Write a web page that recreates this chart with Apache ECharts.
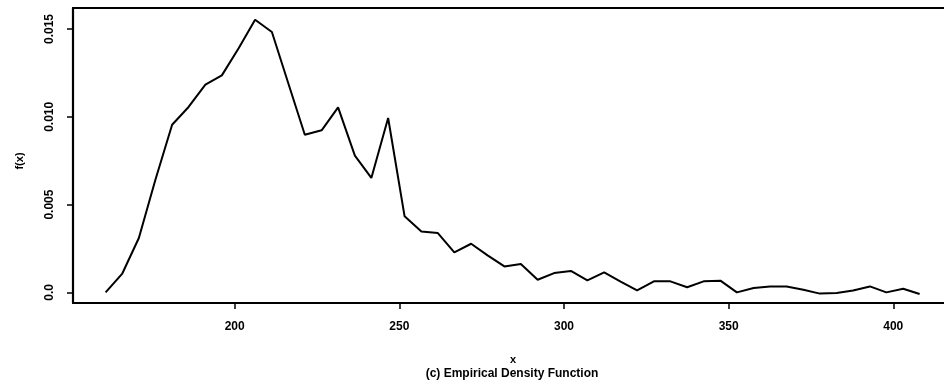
<!DOCTYPE html>
<html>
<head>
<meta charset="utf-8">
<script src="https://cdn.jsdelivr.net/npm/echarts@6/dist/echarts.min.js"></script>
<style>
  html, body { margin: 0; padding: 0; background: #fff; }
  #chart { width: 944px; height: 387px; }
</style>
</head>
<body>
<div id="chart"></div>
<script>
// Evaluation points of the empirical density
const xValues = [
  160.8, 165.8, 170.9, 175.9, 181.0, 186.0, 191.1, 196.1, 201.2, 206.2,
  211.3, 216.3, 221.3, 226.4, 231.4, 236.5, 241.5, 246.6, 251.6, 256.7,
  261.7, 266.7, 271.8, 276.8, 281.9, 286.9, 292.0, 297.0, 302.1, 307.1,
  312.2, 317.2, 322.2, 327.3, 332.3, 337.4, 342.4, 347.5, 352.5, 357.6,
  362.6, 367.6, 372.7, 377.7, 382.8, 387.8, 392.9, 397.9, 403.0, 408.0
];
// Estimated density f(x) at each point
const densityValues = [
  0.0, 0.00105, 0.0031, 0.0064, 0.00955, 0.01056, 0.01183, 0.01236, 0.0139, 0.01553,
  0.01483, 0.0119, 0.00898, 0.00923, 0.01054, 0.00779, 0.00652, 0.00993, 0.00433, 0.00347,
  0.00338, 0.00228, 0.00277, 0.00211, 0.00148, 0.00162, 0.00072, 0.0011, 0.00122, 0.00068,
  0.00114, 0.00062, 0.00011, 0.00063, 0.00063, 0.00029, 0.00063, 0.00067, 0.0, 0.00025,
  0.00034, 0.00034, 0.00015, -0.00007, -0.00004, 0.00011, 0.00034, 0.0, 0.00021, -0.00009
];
const xTicks = [200, 250, 300, 350, 400];
const yTicks = [0, 0.005, 0.010, 0.015];
const yTickLabels = ['0.0', '0.005', '0.010', '0.015'];

const FONT = '"Liberation Sans", Arial, Helvetica, sans-serif';
const X_MIN = 150.9, X_MAX = 415.4;

const chart = echarts.init(document.getElementById('chart'), null, { renderer: 'canvas' });

const points = xValues.map((x, i) => [x, densityValues[i]]);
const frameLine = { show: true, lineStyle: { color: '#000', width: 2.2 } };

chart.setOption({
  animation: false,
  backgroundColor: '#ffffff',
  grid: { left: 73, top: 8, right: 0, bottom: 84, show: false },
  xAxis: [
    {
      type: 'value',
      position: 'bottom',
      min: X_MIN,
      max: X_MAX,
      axisLine: { ...frameLine, onZero: false },
      splitLine: { show: false },
      axisTick: {
        show: true, inside: false, length: 6,
        lineStyle: { color: '#000', width: 1.5 },
        customValues: xTicks
      },
      axisLabel: {
        customValues: xTicks,
        margin: 18,
        color: '#000',
        fontFamily: FONT,
        fontWeight: 'bold',
        fontSize: 12
      }
    },
    {
      // top edge of the plot frame
      type: 'value',
      position: 'top',
      min: X_MIN,
      max: X_MAX,
      axisLine: { ...frameLine, onZero: false },
      axisTick: { show: false },
      axisLabel: { show: false },
      splitLine: { show: false }
    }
  ],
  yAxis: {
    type: 'value',
    min: -0.000604,
    max: 0.016196,
    axisLine: { ...frameLine, onZero: false },
    splitLine: { show: false },
    axisTick: {
      show: true, inside: false, length: 6,
      lineStyle: { color: '#000', width: 1.5 },
      customValues: yTicks
    },
    axisLabel: {
      customValues: yTicks,
      rotate: 90,
      margin: 17,
      color: '#000',
      fontFamily: FONT,
      fontWeight: 'bold',
      fontSize: 12,
      formatter: (v) => {
        const idx = yTicks.findIndex(t => Math.abs(t - v) < 1e-9);
        return idx >= 0 ? yTickLabels[idx] : '';
      }
    }
  },
  graphic: [
    {
      type: 'text', x: 20, y: 161, rotation: Math.PI / 2,
      style: {
        text: 'f(x)', fill: '#000', font: 'bold 11px ' + FONT,
        align: 'center', verticalAlign: 'middle'
      }
    },
    {
      type: 'text', x: 513, y: 360,
      style: {
        text: 'x', fill: '#000', font: 'bold 11px ' + FONT,
        align: 'center', verticalAlign: 'middle'
      }
    },
    {
      type: 'text', x: 512, y: 374,
      style: {
        text: '(c) Empirical Density Function', fill: '#000', font: 'bold 12px ' + FONT,
        align: 'center', verticalAlign: 'middle'
      }
    }
  ],
  series: [{
    type: 'line',
    xAxisIndex: 0,
    data: points,
    showSymbol: false,
    symbol: 'none',
    lineStyle: { color: '#000', width: 2 },
    z: 3
  }]
});
</script>
</body>
</html>
